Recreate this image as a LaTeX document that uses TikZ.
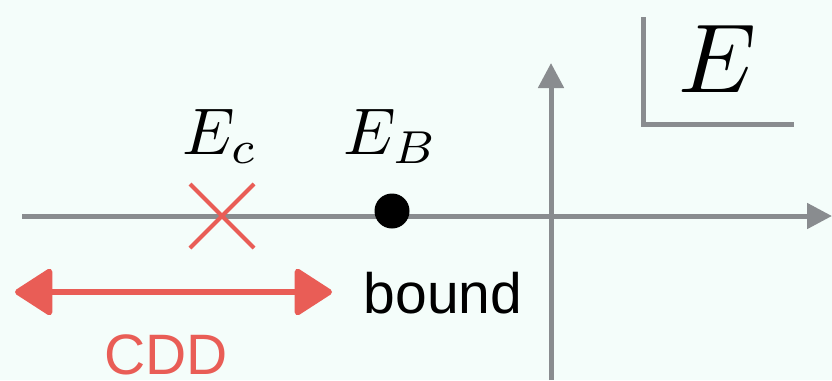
\documentclass[tikz,border=0pt]{standalone}
\usepackage{graphicx}
\usepackage{fontspec}
\setsansfont{Liberation Sans}
\usetikzlibrary{arrows.meta}
\definecolor{bgc}{RGB}{244,253,250}
\definecolor{axgray}{RGB}{137,140,143}
\definecolor{cddred}{RGB}{233,93,86}
\tikzset{
  axis/.style={draw=axgray, line width=5pt, -{Triangle[length=25pt,width=25pt]}},
  frame/.style={draw=axgray, line width=5pt},
  cross/.style={draw=cddred, line width=4pt},
  redarrow/.style={draw=cddred, line width=6pt, {Triangle[length=40pt,width=50pt,round]}-{Triangle[length=40pt,width=50pt,round]}},
  mathlbl/.style={inner sep=0pt, anchor=base},
  sanslbl/.style={inner sep=0pt, anchor=base, text depth=0pt, font=\sffamily\fontsize{57}{57}\selectfont}
}
\begin{document}
\begin{tikzpicture}[x=1pt,y=-1pt]
\fill[bgc] (0,0) rectangle (832,380);
\useasboundingbox (0,0) rectangle (832,380);
% axes
\coordinate (hs) at (22,216);
\coordinate (he) at (832,216);
\coordinate (vs) at (551,380);
\coordinate (ve) at (551,63);
\draw[axis] (hs) -- (he);
\draw[axis] (vs) -- (ve);
% corner frame
\coordinate (ft) at (643,17);
\coordinate (fc) at (643,124);
\coordinate (fr) at (794,124);
\draw[frame, line cap=butt] (ft) -- (fc) -- (fr);
\node[mathlbl] (Elbl) at (717,92) {\scalebox{9.8}{$E$}};
% E_c cross
\coordinate (x1) at (190,184);
\coordinate (x2) at (254,248);
\coordinate (x3) at (190,248);
\coordinate (x4) at (254,184);
\draw[cross] (x1) -- (x2);
\draw[cross] (x3) -- (x4);
\node[mathlbl] (Ec) at (220,154) {\scalebox{6.6}{$E_c$}};
% E_B dot
\fill[black] (392,211) circle (17.5pt);
\coordinate (dot) at (392,211);
\node[mathlbl] (EB) at (391,154) {\scalebox{6.6}{$E_B$}};
% bound
\node[sanslbl] (bound) at (443,313) {bound};
% CDD arrow
\coordinate (al) at (15,292);
\coordinate (ar) at (332,292);
\draw[redarrow] (al) -- (ar);
\node[sanslbl, text=cddred] (cdd) at (166,374) {CDD};
\end{tikzpicture}
\end{document}
